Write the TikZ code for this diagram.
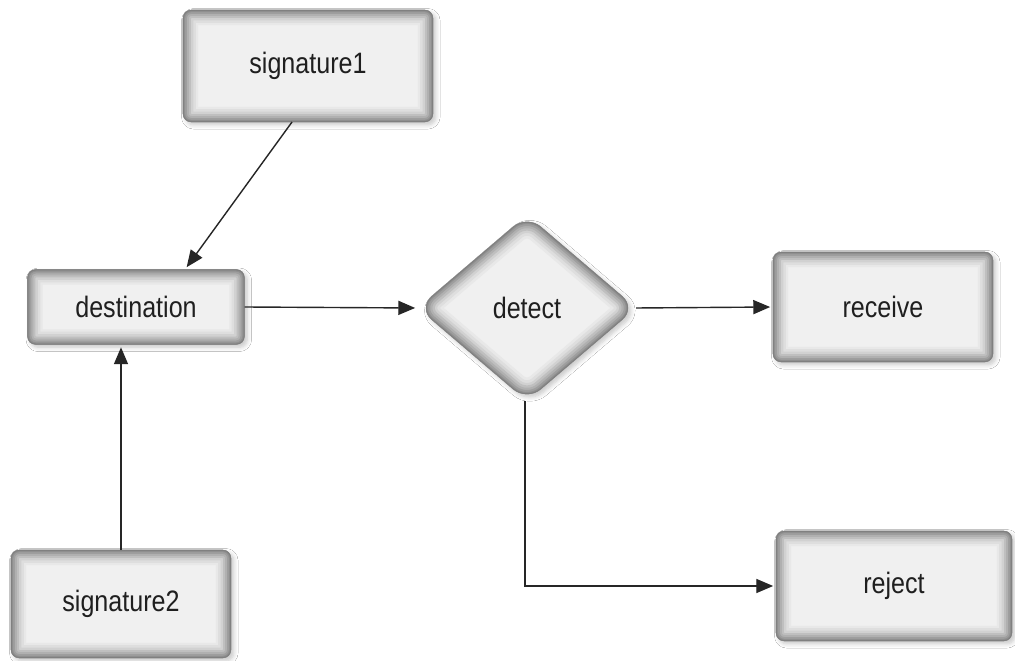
\documentclass[tikz,border=0pt]{standalone}
\usepackage{fontspec}
\newfontfamily\lbl{Liberation Sans}[FakeStretch=0.85]
\usetikzlibrary{shapes.geometric,arrows.meta,shadows.blur,calc}

% soft grey inner rim for boxes
\tikzset{
  rimrect/.style={
    path picture={
      \foreach \w/\c in {0.76/9,0.64/13,0.52/18,0.4/25,0.3/31,0.2/38,0.11/44,0.05/50}{
        \draw[line width=\w cm, black!\c, rounded corners=0.2cm]
          (path picture bounding box.south west) rectangle
          (path picture bounding box.north east);
      }
    }},
  rimdiamond/.style={
    path picture={
      \foreach \w/\c in {0.84/9,0.7/13,0.56/18,0.44/25,0.32/31,0.21/38,0.11/44,0.05/50}{
        \draw[line width=\w cm, black!\c, rounded corners=0.45cm]
          (path picture bounding box.west) -- (path picture bounding box.north) --
          (path picture bounding box.east) -- (path picture bounding box.south) -- cycle;
      }
    }},
  shade/.style={blur shadow={shadow xshift=2pt, shadow yshift=-2pt,
      shadow opacity=22, shadow blur steps=6, shadow blur radius=3pt}},
  block/.style 2 args={rectangle, rounded corners=0.2cm, fill=black!6,
      minimum width=#1, minimum height=#2, inner sep=0pt, outer sep=0pt,
      shade, rimrect, font=\lbl\fontsize{21}{24}\selectfont, text=black!88},
  decision/.style={diamond, rounded corners=0.45cm, fill=black!6,
      minimum width=5.45cm, minimum height=4.65cm, inner sep=0pt, outer sep=0pt,
      shade, rimdiamond, font=\lbl\fontsize{21}{24}\selectfont, text=black!88},
  arr/.style={draw=black!85, line width=1pt, shorten >=2pt,
      -{Triangle[length=12pt,width=10pt]}}
}

\begin{document}
\begin{tikzpicture}[x=0.025cm, y=-0.025cm]
  \fill[white] (0,0) rectangle (1015,661);
  \useasboundingbox (0,0) rectangle (1015,661);

  \node[block={6.25cm}{2.8cm}] (sig1) at (308,66) {signature1};
  \node[block={5.425cm}{1.875cm}] (dest) at (136,307) {destination};
  \node[decision] (det) at (527,308) {detect};
  \node[block={5.5cm}{2.75cm}] (recv) at (883,307) {receive};
  \node[block={5.9cm}{2.75cm}] (rej) at (894,586) {reject};
  \node[block={5.5cm}{2.7cm}] (sig2) at (121,604) {signature2};

  \draw[arr] ([xshift=-16*0.025cm]sig1.south) -- ([xshift=49*0.025cm]dest.north);
  \draw[arr] (sig2.north) -- (sig2.north |- dest.south);
  \draw[arr] (dest.east) -- (det.west);
  \draw[arr] (det.east) -- (recv.west);
  \draw[arr] ([xshift=-2*0.025cm]det.south) |- (rej.west);
\end{tikzpicture}
\end{document}
